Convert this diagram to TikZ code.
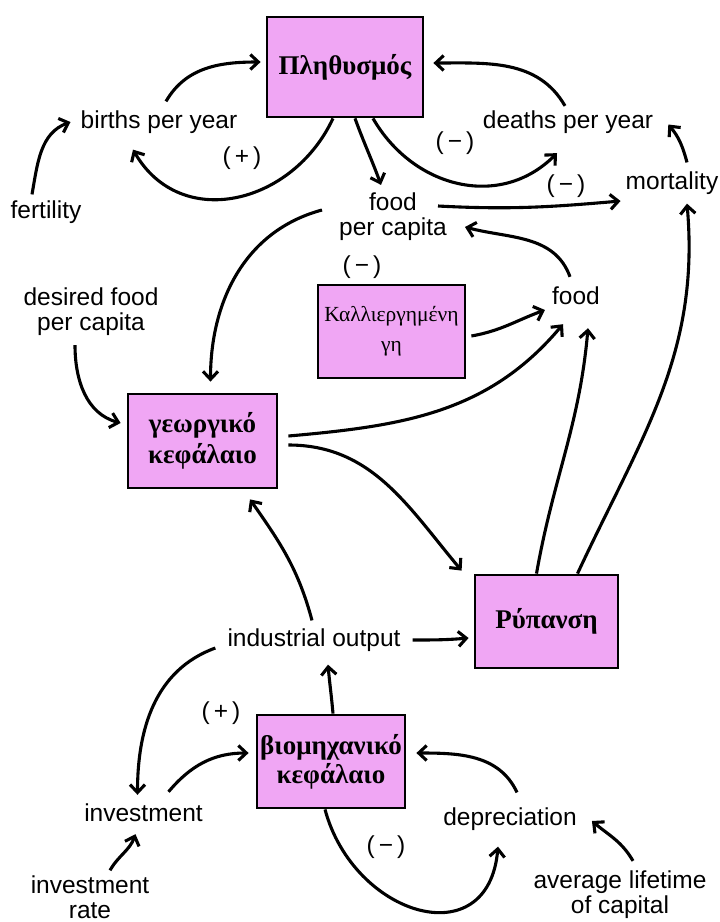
\documentclass[tikz,border=0pt]{standalone}
\usepackage{fontspec}
\setmainfont{Liberation Serif}
\newfontfamily\lblfam{Liberation Sans}
\usetikzlibrary{arrows.meta}
\definecolor{boxpink}{RGB}{240,166,244}
\begin{document}
\begin{tikzpicture}[x=1pt,y=-1pt,
  lbl/.style={font=\lblfam\fontsize{24.5}{25}\selectfont, inner sep=2pt, align=center},
  sgn/.style={font=\lblfam\fontsize{24.5}{25}\selectfont, inner sep=1pt},
  stock/.style={draw, line width=2.8pt, fill=boxpink, font=\bfseries\fontsize{27}{31}\selectfont, align=center, inner sep=0pt},
  arr/.style={line width=3.1pt, -{Straight Barb[length=8pt,width=15pt]}},
]
\useasboundingbox[fill=white] (0,0) rectangle (720,922);

% stocks
\node[stock, minimum width=156pt, minimum height=100pt] (pop) at (345,67) {Πληθυσμός};
\node[stock, minimum width=147pt, minimum height=93pt, font=\fontsize{21.5}{30}\selectfont] (kal) at (391.5,331.5) {Καλλιεργημένη\\γη};
\node[stock, minimum width=149pt, minimum height=94pt] (geo) at (202.5,441) {γεωργικό\\κεφάλαιο};
\node[stock, minimum width=143pt, minimum height=93pt] (ryp) at (546.5,621.5) {Ρύπανση};
\node[stock, minimum width=148pt, minimum height=93pt, font=\bfseries\fontsize{27}{29}\selectfont] (bio) at (331,761.5) {βιομηχανικό\\κεφάλαιο};

% variables
\node[lbl] (births) at (159,122) {births per year};
\node[lbl] (fert) at (46,212) {fertility};
\node[lbl] (deaths) at (568,122.5) {deaths per year};
\node[lbl] (mort) at (672,183) {mortality};
\node[lbl] (fpc) at (393,217) {food\\per capita};
\node[lbl] (desired) at (91,312) {desired food\\per capita};
\node[lbl] (food) at (576,296) {food};
\node[lbl] (ind) at (314,640) {industrial output};
\node[lbl] (inv) at (143.5,813) {investment};
\node[lbl] (invr) at (90,897) {investment\\rate};
\node[lbl] (dep) at (510,819) {depreciation};
\node[lbl] (avg) at (620,895) {average lifetime\\of capital};

% polarities
\node[sgn] (s1) at (242,158) {(\kern4pt+\kern4pt)};
\node[sgn] (s2) at (455,143) {(\kern4pt−\kern4pt)};
\node[sgn] (s3) at (566,186) {(\kern4pt−\kern4pt)};
\node[sgn] (s4) at (362,267) {(\kern4pt−\kern4pt)};
\node[sgn] (s5) at (221,713) {(\kern4pt+\kern4pt)};
\node[sgn] (s6) at (386,847) {(\kern4pt−\kern4pt)};

% connectors
\draw[arr] ([xshift=-14pt,yshift=4pt]fert.north) to[out=80,in=200] ([xshift=-8pt]births.west);
\draw[arr] ([xshift=7pt,yshift=7pt]births.north) to[out=60,in=180] ([xshift=-5pt,yshift=5pt]pop.west);
\draw[arr] ([xshift=-12pt]pop.south) to[out=245,in=-60,looseness=1.2] ([xshift=-26pt,yshift=-14pt]births.south);
\draw[arr] ([xshift=28pt]pop.south) to[out=-60,in=225,looseness=1.1] ([xshift=-11pt,yshift=-17pt]deaths.south);
\draw[arr] ([xshift=-3pt,yshift=3pt]deaths.north) to[out=120,in=0] ([xshift=9pt,yshift=4pt]pop.east);
\draw[arr] ([xshift=15pt,yshift=7pt]mort.north) to[out=105,in=-50] ([xshift=13pt,yshift=-2pt]deaths.east);
\draw[arr] ([xshift=10pt]pop.south) to[out=-70,in=110] ([xshift=-12pt,yshift=6pt]fpc.north);
\draw[arr] ([xshift=-11pt,yshift=11pt]fpc.east) to[out=-3,in=185] ([xshift=-3pt,yshift=-18pt]mort.west);
\draw[arr] ([xshift=-6pt,yshift=8pt]food.north) to[out=110,in=-15] ([xshift=16pt,yshift=-10pt]fpc.east);
\draw[arr] ([xshift=-15pt,yshift=7pt]fpc.west) to[out=195,in=90] ([xshift=8pt,yshift=11pt]geo.north);
\draw[arr] ([xshift=-16pt,yshift=-7pt]desired.south) to[out=-90,in=165] ([xshift=-6pt,yshift=18pt]geo.west);
\draw[arr] ([xshift=5pt,yshift=-4.5pt]kal.east) to[out=10,in=200] ([xshift=-5pt,yshift=-14pt]food.west);
\draw[arr] ([xshift=10pt,yshift=5pt]geo.east) to[out=5,in=230] ([xshift=-13pt,yshift=-17pt]food.south);
\draw[arr] ([xshift=-10pt]ryp.north) to[out=80,in=-95] ([xshift=12pt,yshift=-21pt]food.south);
\draw[arr] ([xshift=31pt]ryp.north) to[out=65,in=-85] ([xshift=15pt,yshift=-7pt]mort.south);
\draw[arr] ([xshift=10pt,yshift=-4pt]geo.east) to[out=0,in=130] ([xshift=-12pt,yshift=3pt]ryp.north west);
\draw[arr] ([xshift=10pt]ind.east) to[out=0,in=185] ([xshift=-5pt,yshift=-16.5pt]ryp.west);
\draw[arr] ([xshift=-2pt,yshift=6pt]ind.north) to[out=105,in=-55] ([xshift=47.5pt,yshift=-10pt]geo.south);
\draw[arr] ([xshift=-10pt,yshift=-8pt]ind.west) to[out=200,in=90] ([xshift=-6pt,yshift=7pt]inv.north);
\draw[arr] ([xshift=2pt]bio.north) to[out=95,in=-85] ([xshift=14pt,yshift=-11pt]ind.south);
\draw[arr] ([xshift=25pt,yshift=10pt]inv.north) to[out=50,in=180] ([xshift=-7pt,yshift=8.5pt]bio.west);
\draw[arr] ([xshift=20pt,yshift=3pt]invr.north) to[out=60,in=250] ([xshift=-8pt,yshift=-10pt]inv.south);
\draw[arr] ([xshift=7pt,yshift=13pt]dep.north) to[out=115,in=0] ([xshift=10pt,yshift=8.5pt]bio.east);
\draw[arr] ([xshift=-6pt]bio.south) to[out=-75,in=-95,looseness=1.6] ([xshift=-12pt,yshift=-14pt]dep.south);
\draw[arr] ([xshift=13pt,yshift=8pt]avg.north) to[out=120,in=-40] ([xshift=13pt,yshift=-2pt]dep.east);
\end{tikzpicture}
\end{document}
